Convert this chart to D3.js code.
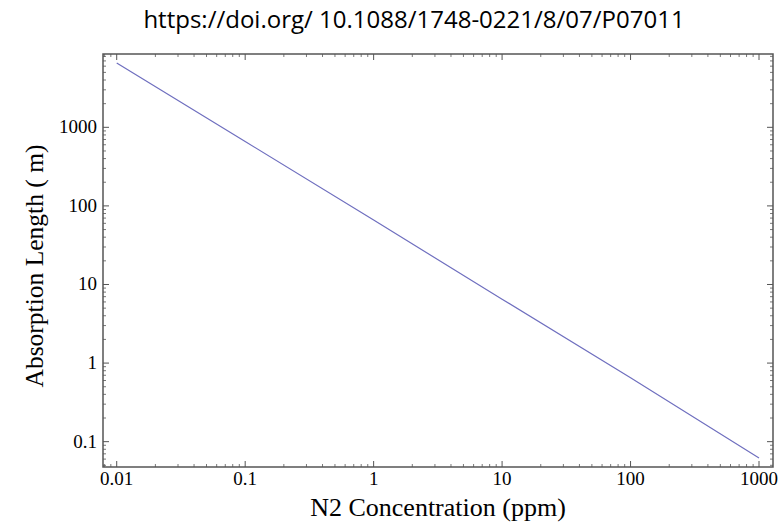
<!DOCTYPE html>
<html>
<head>
<style>
body { margin: 0; background: #fff; }
</style>
</head>
<body>
<script src="https://cdn.jsdelivr.net/npm/d3@7"></script>
<script>
'use strict'

const W = 784
const H = 526

// N2 concentration (ppm) vs absorption length (m)
const concentration = [0.01, 0.1, 1, 10, 100, 1000]
const absorption = [6600, 660, 66, 6.5, 0.65, 0.062]
const xTickValues = [0.01, 0.1, 1, 10, 100, 1000]
const xTickLabels = ['0.01', '0.1', '1', '10', '100', '1000']
const yTickValues = [0.1, 1, 10, 100, 1000]
const yTickLabels = ['0.1', '1', '10', '100', '1000']

const frame = { left: 103, right: 773, top: 54, bottom: 467 }

const svg = d3.select('body').append('svg')
  .attr('width', W)
  .attr('height', H)

const x = d3.scaleLog().domain([0.00782, 1285]).range([frame.left, frame.right])
const y = d3.scaleLog().domain([0.0476, 8570]).range([frame.bottom, frame.top])

// minor ticks, 2..9 in every decade
const minors = (lo, hi) => {
  const out = []
  for (let e = lo; e <= hi; e++)
    for (let m = 2; m <= 9; m++) out.push(m * Math.pow(10, e))
  return out
}
const xMinor = minors(-3, 3).filter(v => v > x.domain()[0] && v < x.domain()[1])
const yMinor = minors(-2, 3).filter(v => v > y.domain()[0] && v < y.domain()[1])

const axisColor = '#555'
const g = svg.append('g')

// frame
g.append('rect')
  .attr('x', frame.left).attr('y', frame.top)
  .attr('width', frame.right - frame.left)
  .attr('height', frame.bottom - frame.top)
  .attr('fill', 'none')
  .attr('stroke', axisColor)
  .attr('stroke-width', 1.5)

const tick = (x1, y1, x2, y2, w) => g.append('line')
  .attr('x1', x1).attr('y1', y1).attr('x2', x2).attr('y2', y2)
  .attr('stroke', axisColor).attr('stroke-width', w)

xTickValues.forEach(v => {
  tick(x(v), frame.bottom, x(v), frame.bottom - 6, 1)
  tick(x(v), frame.top, x(v), frame.top + 6, 1)
})
xMinor.forEach(v => {
  tick(x(v), frame.bottom, x(v), frame.bottom - 3, 0.8)
  tick(x(v), frame.top, x(v), frame.top + 3, 0.8)
})
yTickValues.forEach(v => {
  tick(frame.left, y(v), frame.left + 6, y(v), 1)
  tick(frame.right, y(v), frame.right - 6, y(v), 1)
})
yMinor.forEach(v => {
  tick(frame.left, y(v), frame.left + 3, y(v), 0.8)
  tick(frame.right, y(v), frame.right - 3, y(v), 0.8)
})

const serif = '"Liberation Serif", "DejaVu Serif", serif'

g.selectAll('text.xt')
  .data(xTickValues)
  .enter().append('text')
  .attr('class', 'xt')
  .attr('x', d => x(d))
  .attr('y', frame.bottom + 18)
  .attr('text-anchor', 'middle')
  .attr('font-family', serif)
  .attr('font-size', 19)
  .text((d, i) => xTickLabels[i])

g.selectAll('text.yt')
  .data(yTickValues)
  .enter().append('text')
  .attr('class', 'yt')
  .attr('x', frame.left - 6)
  .attr('y', d => y(d) + 6)
  .attr('text-anchor', 'end')
  .attr('font-family', serif)
  .attr('font-size', 19)
  .text((d, i) => yTickLabels[i])

// data line
const line = d3.line()
  .x(d => x(d[0]))
  .y(d => y(d[1]))

svg.append('path')
  .datum(concentration.map((c, i) => [c, absorption[i]]))
  .attr('d', line)
  .attr('fill', 'none')
  .attr('stroke', '#6f6fbf')
  .attr('stroke-width', 1.2)

// labels
svg.append('text')
  .attr('x', 438).attr('y', 516)
  .attr('text-anchor', 'middle')
  .attr('font-family', serif)
  .attr('font-size', 26)
  .text('N2 Concentration (ppm)')

svg.append('text')
  .attr('transform', 'translate(43,266) rotate(-90)')
  .attr('text-anchor', 'middle')
  .attr('font-family', serif)
  .attr('font-size', 25.5)
  .text('Absorption Length ( m)')

svg.append('text')
  .attr('x', 414).attr('y', 28)
  .attr('text-anchor', 'middle')
  .attr('font-family', '"Open Sans", "Liberation Sans", sans-serif')
  .attr('font-size', 24)
  .text('https://doi.org/ 10.1088/1748-0221/8/07/P07011')
</script>
</body>
</html>
